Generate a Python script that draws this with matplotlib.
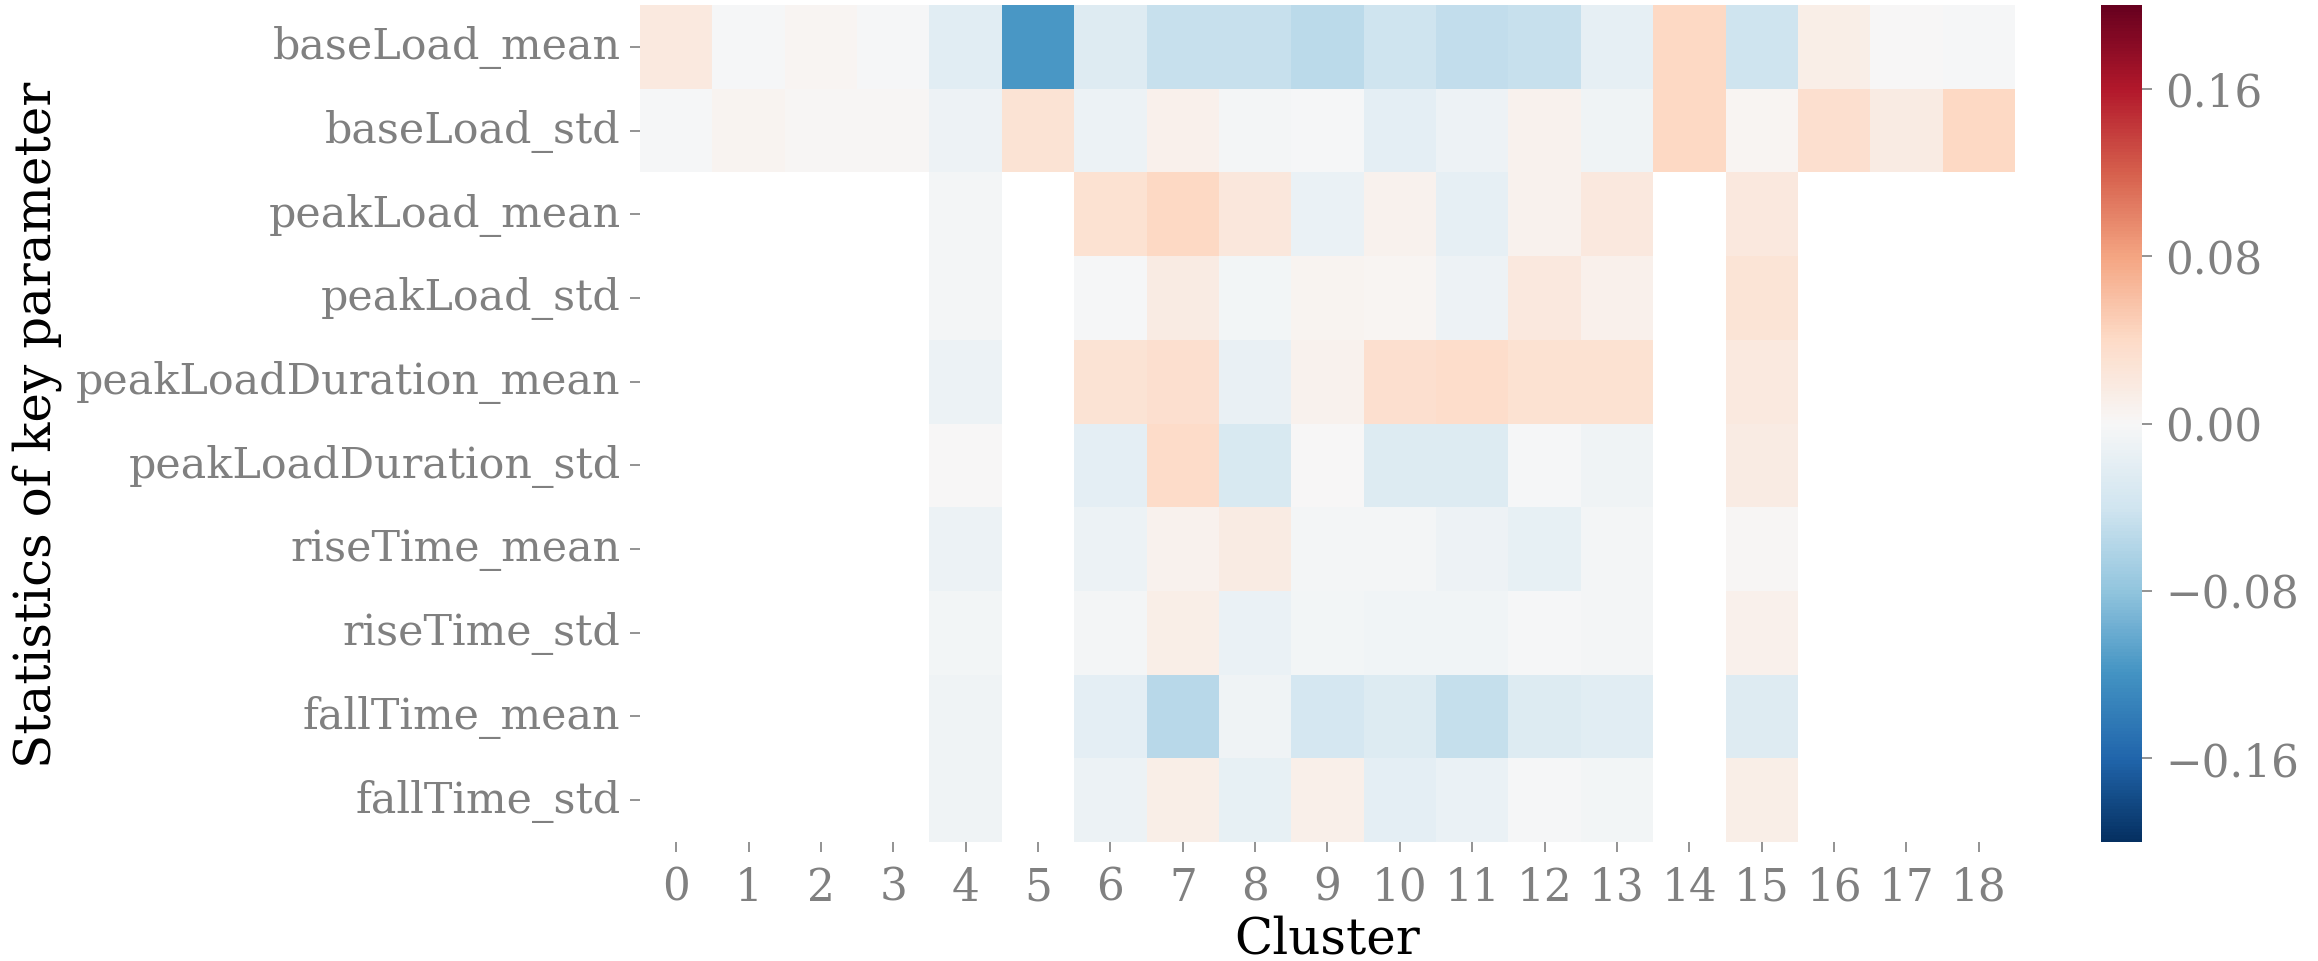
import numpy as np
import pandas as pd
import matplotlib
matplotlib.use("Agg")
import matplotlib.pyplot as plt
import seaborn as sns

nan = np.nan

clusters = list(range(19))
parameters = [
    "baseLoad_mean", "baseLoad_std",
    "peakLoad_mean", "peakLoad_std",
    "peakLoadDuration_mean", "peakLoadDuration_std",
    "riseTime_mean", "riseTime_std",
    "fallTime_mean", "fallTime_std",
]

# per-cluster deviation of each statistic (NaN = not available)
baseLoad_mean = [0.020, -0.003, 0.004, -0.002, -0.023, -0.116, -0.026, -0.046, -0.046, -0.054,
                 -0.041, -0.050, -0.046, -0.018, 0.042, -0.041, 0.014, 0.001, -0.002]
baseLoad_std = [-0.003, 0.006, 0.002, 0.002, -0.010, 0.029, -0.011, 0.010, -0.004, -0.003,
                -0.020, -0.010, 0.009, -0.008, 0.042, 0.004, 0.034, 0.017, 0.041]
peakLoad_mean = [nan, nan, nan, nan, -0.004, nan, 0.030, 0.041, 0.023, -0.013,
                 0.009, -0.018, 0.009, 0.021, nan, 0.021, nan, nan, nan]
peakLoad_std = [nan, nan, nan, nan, -0.004, nan, -0.002, 0.016, -0.006, 0.006,
                0.004, -0.010, 0.021, 0.010, nan, 0.027, nan, nan, nan]
peakLoadDuration_mean = [nan, nan, nan, nan, -0.011, nan, 0.029, 0.033, -0.015, 0.009,
                         0.033, 0.036, 0.031, 0.031, nan, 0.020, nan, nan, nan]
peakLoadDuration_std = [nan, nan, nan, nan, 0.000, nan, -0.019, 0.039, -0.032, 0.000,
                        -0.028, -0.028, -0.002, -0.008, nan, 0.017, nan, nan, nan]
riseTime_mean = [nan, nan, nan, nan, -0.011, nan, -0.011, 0.009, 0.017, -0.004,
                 -0.004, -0.010, -0.017, -0.004, nan, 0.002, nan, nan, nan]
riseTime_std = [nan, nan, nan, nan, -0.005, nan, -0.004, 0.014, -0.013, -0.005,
                -0.007, -0.007, -0.003, -0.004, nan, 0.010, nan, nan, nan]
fallTime_mean = [nan, nan, nan, nan, -0.009, nan, -0.019, -0.055, -0.008, -0.035,
                 -0.028, -0.047, -0.027, -0.022, nan, -0.026, nan, nan, nan]
fallTime_std = [nan, nan, nan, nan, -0.009, nan, -0.011, 0.013, -0.017, 0.011,
                -0.020, -0.013, -0.002, -0.005, nan, 0.013, nan, nan, nan]

cbar_ticks = [-0.16, -0.08, 0.00, 0.08, 0.16]

data = pd.DataFrame(
    [baseLoad_mean, baseLoad_std, peakLoad_mean, peakLoad_std,
     peakLoadDuration_mean, peakLoadDuration_std, riseTime_mean, riseTime_std,
     fallTime_mean, fallTime_std],
    index=parameters, columns=clusters,
)

plt.rcParams["font.family"] = ["DejaVu Serif"]
tick_color = "#808080"

fig = plt.figure(figsize=(23.18, 9.62), dpi=100)
ax = fig.add_axes([640 / 2318, 1 - 843 / 962, 1375 / 2318, 837 / 962])
cax = fig.add_axes([2101 / 2318, 1 - 843 / 962, 41 / 2318, 837 / 962])

sns.heatmap(data, ax=ax, cbar_ax=cax, cmap="RdBu_r", vmin=-0.2, vmax=0.2,
            cbar_kws={"ticks": cbar_ticks, "format": "%.2f"})

ax.set_xlabel("Cluster", fontsize=36, color="black")
ax.set_ylabel("Statistics of key parameter", fontsize=36, color="black", labelpad=10)
ax.set_yticklabels(parameters, rotation=0)
ax.set_xticklabels([str(c) for c in clusters], rotation=0)
ax.tick_params(axis="both", colors=tick_color, length=7, width=1.2)
ax.tick_params(axis="y", labelsize=30.9, pad=7)
ax.tick_params(axis="x", labelsize=31.5, pad=10)
cax.tick_params(labelsize=31.5, colors=tick_color, length=7, width=1.2, pad=10)
cax.yaxis.set_major_formatter(matplotlib.ticker.FuncFormatter(
    lambda v, p: f"{v:.2f}".replace("-", "\u2212")))

fig.savefig("out.png", dpi=100, facecolor="white")
